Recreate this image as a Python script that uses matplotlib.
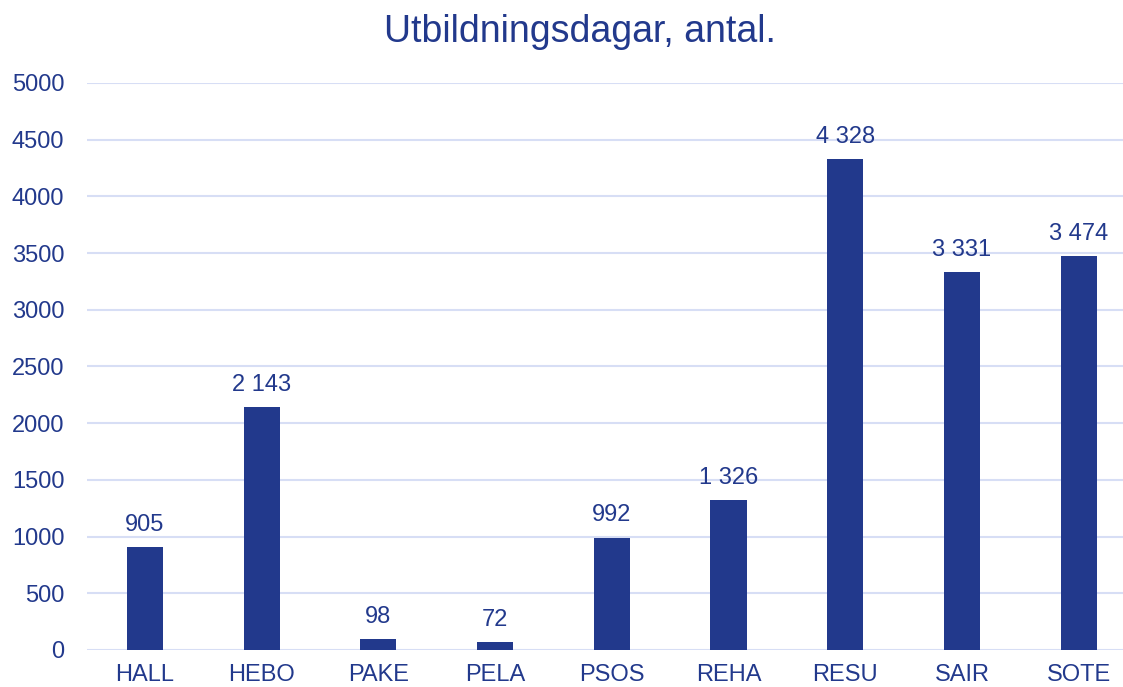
import matplotlib.pyplot as plt

# data
units = ['HALL', 'HEBO', 'PAKE', 'PELA', 'PSOS', 'REHA', 'RESU', 'SAIR', 'SOTE']
days = [905, 2143, 98, 72, 992, 1326, 4328, 3331, 3474]
y_ticks = [0, 500, 1000, 1500, 2000, 2500, 3000, 3500, 4000, 4500, 5000]

blue = '#22398C'
grid = '#D7DEF5'

plt.rcParams['font.family'] = ['Liberation Sans', 'DejaVu Sans']

fig = plt.figure(figsize=(11.23, 6.87), dpi=100)
ax = fig.add_axes([86.6 / 1123, 37 / 687, 1 - 86.6 / 1123, 567 / 687])

x = list(range(len(units)))
ax.bar(x, days, width=0.31, color=blue, zorder=3)

for xi, v in zip(x, days):
    label = f'{v:,}'.replace(',', ' ')
    ax.annotate(label, (xi, v), xytext=(0, 8), textcoords='offset points',
                ha='center', va='bottom', fontsize=17, color=blue)

ax.set_xlim(-0.5, 8.38)
ax.set_ylim(0, 5000)
ax.set_yticks(y_ticks)
ax.set_xticks(x)
ax.set_xticklabels(units)
ax.tick_params(axis='both', length=0, labelsize=17, labelcolor=blue)
ax.tick_params(axis='y', pad=16)
ax.tick_params(axis='x', pad=10)
ax.yaxis.grid(True, color=grid, linewidth=1.5, zorder=0)
for s in ax.spines.values():
    s.set_visible(False)

# title sits a bit right of the figure centre in the original
fig.text(0.5165, 1 - 42 / 687, 'Utbildningsdagar, antal.', ha='center', va='baseline',
         fontsize=27, color=blue)

fig.savefig('out.png', dpi=100)
